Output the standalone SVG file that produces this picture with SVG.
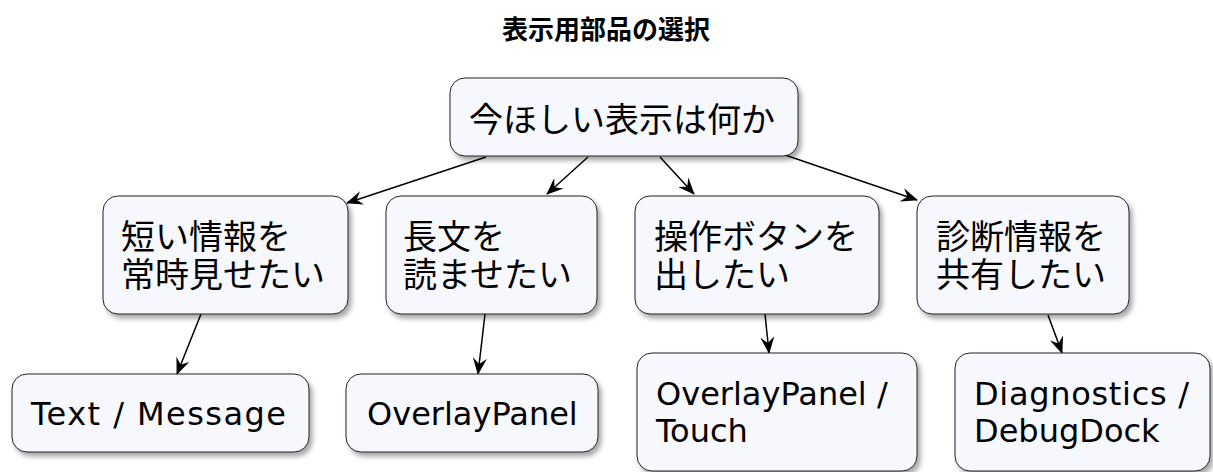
<svg xmlns="http://www.w3.org/2000/svg" width="1213" height="472" viewBox="0 0 1213 472">
<defs>
<filter id="sh" x="-10%" y="-10%" width="130%" height="140%">
<feDropShadow dx="3" dy="4" stdDeviation="2.5" flood-color="#000" flood-opacity="0.35"/>
</filter>
<marker id="ah" viewBox="0 0 17 14" refX="16" refY="7" markerWidth="17" markerHeight="14" markerUnits="userSpaceOnUse" orient="auto">
<path d="M0,0 L17,7 L0,14 L6,7 Z" fill="#000"/>
</marker>
</defs>
<style>
.box{fill:#F6F8FE;stroke:#222;stroke-width:1;filter:url(#sh)}
.jp{font-family:"Noto Sans CJK JP",sans-serif;font-size:34px;fill:#000}
.en{font-family:"DejaVu Sans",sans-serif;font-size:32px;fill:#000}
.title{font-family:"Noto Sans CJK JP",sans-serif;font-size:26px;font-weight:bold;fill:#000}
.edge{fill:none;stroke:#000;stroke-width:1.5;marker-end:url(#ah)}
</style>
<rect width="1213" height="472" fill="#fff"/>
<text class="title" x="606" y="39" text-anchor="middle">表示用部品の選択</text>

<g id="connectors">
<line class="edge" x1="486" y1="157" x2="347" y2="203"/>
<line class="edge" x1="588" y1="157" x2="547" y2="194"/>
<line class="edge" x1="660" y1="157" x2="694" y2="194"/>
<line class="edge" x1="785" y1="155" x2="917" y2="200"/>
<line class="edge" x1="201" y1="314" x2="177" y2="374"/>
<line class="edge" x1="485" y1="314" x2="478" y2="374"/>
<line class="edge" x1="765" y1="314" x2="769" y2="353"/>
<line class="edge" x1="1048" y1="315" x2="1062" y2="353"/>
</g>

<g id="root">
<rect class="box" x="450" y="78" width="348" height="78" rx="15"/>
<text class="jp" x="469" y="132">今ほしい表示は何か</text>
</g>
<g id="q1">
<rect class="box" x="103" y="196" width="245" height="118" rx="15"/>
<text class="jp"><tspan x="121" y="249">短い情報を</tspan><tspan x="121" y="287">常時見せたい</tspan></text>
</g>
<g id="q2">
<rect class="box" x="386" y="196" width="211" height="118" rx="15"/>
<text class="jp"><tspan x="403" y="249">長文を</tspan><tspan x="403" y="287">読ませたい</tspan></text>
</g>
<g id="q3">
<rect class="box" x="635" y="196" width="244" height="118" rx="15"/>
<text class="jp"><tspan x="654" y="249">操作ボタンを</tspan><tspan x="654" y="287">出したい</tspan></text>
</g>
<g id="q4">
<rect class="box" x="917" y="196" width="212" height="118" rx="15"/>
<text class="jp"><tspan x="936" y="249">診断情報を</tspan><tspan x="936" y="287">共有したい</tspan></text>
</g>
<g id="a1">
<rect class="box" x="12" y="374" width="297" height="78" rx="15"/>
<text class="en" x="31" y="425" textLength="255" lengthAdjust="spacing">Text / Message</text>
</g>
<g id="a2">
<rect class="box" x="346" y="374" width="252" height="78" rx="15"/>
<text class="en" x="367" y="425">OverlayPanel</text>
</g>
<g id="a3">
<rect class="box" x="637" y="353" width="280" height="118" rx="15"/>
<text class="en"><tspan x="656" y="405">OverlayPanel /</tspan><tspan x="656" y="442">Touch</tspan></text>
</g>
<g id="a4">
<rect class="box" x="955" y="353" width="255" height="118" rx="15"/>
<text class="en"><tspan x="974" y="405" textLength="215" lengthAdjust="spacing">Diagnostics /</tspan><tspan x="974" y="442">DebugDock</tspan></text>
</g>
</svg>
